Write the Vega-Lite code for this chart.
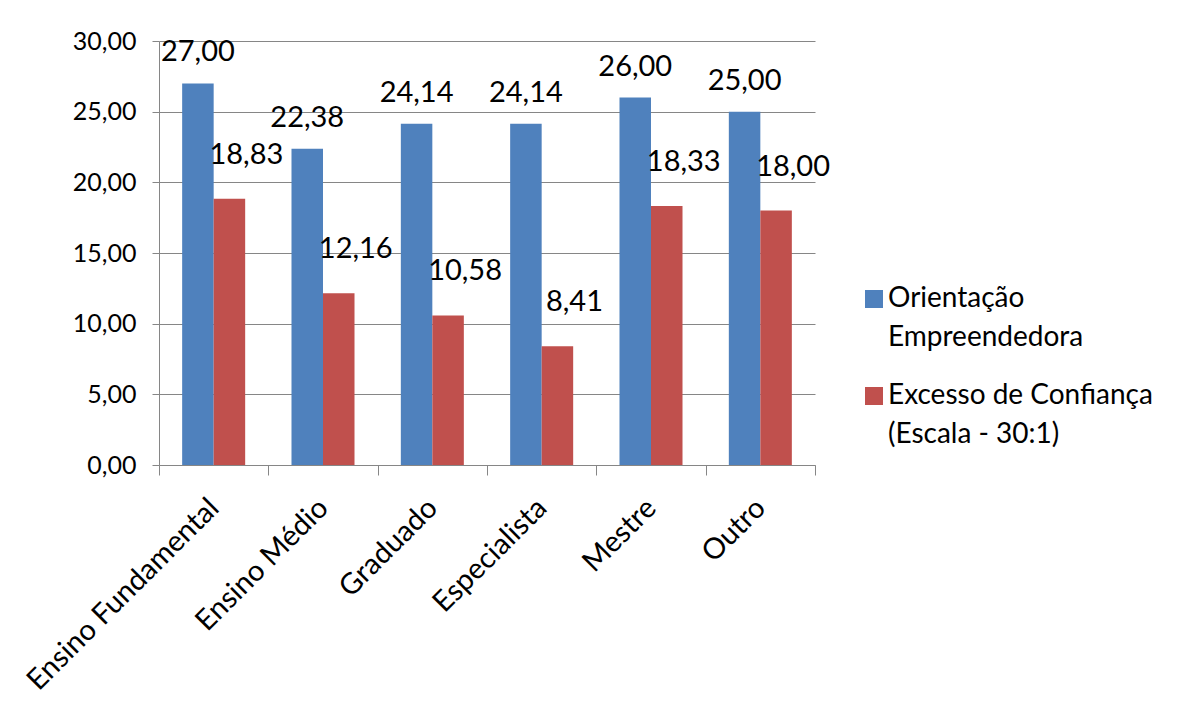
{
  "$schema": "https://vega.github.io/schema/vega-lite/v6.json",
  "width": 656,
  "height": 424,
  "autosize": {"type": "none"},
  "padding": {"left": 159, "top": 41, "right": 371, "bottom": 246},
  "background": "white",
  "config": {
    "font": "Lato",
    "locale": {"number": {"decimal": ",", "thousands": ".", "grouping": [3], "currency": ["R$", ""]}},
    "view": {"stroke": null}
  },
  "data": {
    "values": [
      {"categoria": "Ensino Fundamental", "serie": "Orientação Empreendedora", "valor": 27.00},
      {"categoria": "Ensino Fundamental", "serie": "Excesso de Confiança (Escala - 30:1)", "valor": 18.83},
      {"categoria": "Ensino Médio", "serie": "Orientação Empreendedora", "valor": 22.38},
      {"categoria": "Ensino Médio", "serie": "Excesso de Confiança (Escala - 30:1)", "valor": 12.16},
      {"categoria": "Graduado", "serie": "Orientação Empreendedora", "valor": 24.14},
      {"categoria": "Graduado", "serie": "Excesso de Confiança (Escala - 30:1)", "valor": 10.58},
      {"categoria": "Especialista", "serie": "Orientação Empreendedora", "valor": 24.14},
      {"categoria": "Especialista", "serie": "Excesso de Confiança (Escala - 30:1)", "valor": 8.41},
      {"categoria": "Mestre", "serie": "Orientação Empreendedora", "valor": 26.00},
      {"categoria": "Mestre", "serie": "Excesso de Confiança (Escala - 30:1)", "valor": 18.33},
      {"categoria": "Outro", "serie": "Orientação Empreendedora", "valor": 25.00},
      {"categoria": "Outro", "serie": "Excesso de Confiança (Escala - 30:1)", "valor": 18.00}
    ]
  },
  "encoding": {
    "x": {
      "field": "categoria", "type": "nominal", "sort": null,
      "scale": {"paddingInner": 0, "paddingOuter": 0},
      "axis": {
        "title": null, "labelAngle": -45, "labelAlign": "right", "labelBaseline": "middle",
        "tickBand": "extent", "tickSize": 10, "tickColor": "#868686", "domainColor": "#868686",
        "labelFontSize": 29, "labelColor": "#000000", "labelPadding": 28, "labelLimit": 400
      }
    },
    "xOffset": {
      "field": "serie", "type": "nominal", "sort": ["Orientação Empreendedora", "Excesso de Confiança (Escala - 30:1)"],
      "scale": {"paddingInner": 0, "paddingOuter": 0.735}
    },
    "y": {
      "field": "valor", "type": "quantitative",
      "scale": {"domain": [0, 30], "nice": false},
      "axis": {
        "title": null, "values": [0, 5, 10, 15, 20, 25, 30], "format": ".2f",
        "gridColor": "#868686", "domainColor": "#868686", "tickColor": "#868686",
        "tickSize": 7, "labelPadding": 16, "labelFontSize": 25, "labelColor": "#000000"
      }
    }
  },
  "layer": [
    {
      "mark": {"type": "bar"},
      "encoding": {
        "color": {
          "field": "serie", "type": "nominal",
          "sort": ["Orientação Empreendedora", "Excesso de Confiança (Escala - 30:1)"],
          "scale": {"range": ["#4F81BD", "#C0504D"]},
          "legend": {
            "title": null, "orient": "none", "legendX": 701, "legendY": 244,
            "symbolType": "square", "symbolSize": 324, "symbolStrokeWidth": 0, "symbolOpacity": 1,
            "labelFontSize": 28, "labelColor": "#000000", "labelLimit": 500, "labelOffset": 0,
            "rowPadding": 30, "direction": "vertical",
            "labelExpr": "datum.label == 'Orientação Empreendedora' ? ['Orientação', 'Empreendedora'] : ['Excesso de Confiança', '(Escala - 30:1)']",
            "labelBaseline": "middle",
            "encode": {"labels": {"update": {"lineHeight": {"value": 39}, "dy": {"value": 0}}}}
          }
        }
      }
    },
    {
      "transform": [{"filter": "datum.serie == 'Orientação Empreendedora'"}],
      "mark": {"type": "text", "baseline": "middle", "dy": -31, "fontSize": 29, "color": "#000000"},
      "encoding": {"text": {"field": "valor", "type": "quantitative", "format": ".2f"}}
    },
    {
      "transform": [{"filter": "datum.serie != 'Orientação Empreendedora'"}],
      "mark": {"type": "text", "baseline": "middle", "dy": -44, "dx": 17, "fontSize": 29, "color": "#000000"},
      "encoding": {"text": {"field": "valor", "type": "quantitative", "format": ".2f"}}
    }
  ]
}
